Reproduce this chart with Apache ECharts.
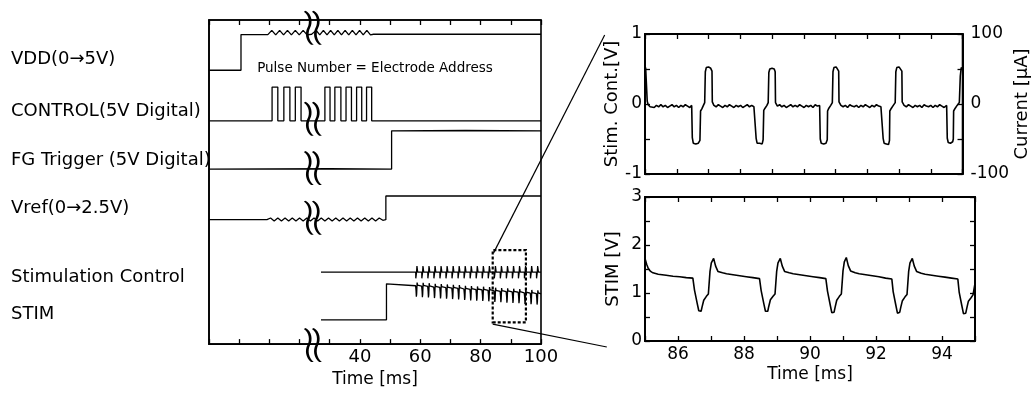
<!DOCTYPE html>
<html><head><meta charset="utf-8">
<script src="https://cdn.jsdelivr.net/npm/echarts@6/dist/echarts.min.js"></script>
<style>html,body{margin:0;padding:0;background:#fff}#c{width:1032px;height:393px}</style>
</head><body><div id="c"></div>
<script>
// ---------- DATA ----------
// Left panel: schematic timing traces (time in ms, level in arbitrary units 0..100)
const leftTickLabels = [40, 60, 80, 100];
const signalNames = ['VDD(0\u21925V)', 'CONTROL(5V Digital)', 'FG Trigger (5V Digital)', 'Vref(0\u21922.5V)', 'Stimulation Control', 'STIM'];
const vdd = [[-10,84.5],[0.6,84.5],[0.6,95.5],[9.5,95.5],[10.8,96.8],[12.1,95.4],[13.4,96.8],[14.7,95.4],[16.0,96.8],[17.3,95.4],[18.6,96.8],[19.9,95.4],[21.2,96.8],[22.5,95.4],[24.0,95.6],[25.5,96.8],[26.7,95.4],[27.9,96.8],[29.1,95.4],[30.3,96.8],[31.5,95.4],[32.7,96.8],[33.9,95.4],[35.1,96.8],[36.3,95.4],[37.5,96.8],[38.7,95.4],[39.9,96.8],[41.1,95.4],[42.3,96.8],[43.5,95.4],[44.5,95.6],[100,95.6]];
const control = [[-10,68.9],[10.9,68.9],[10.9,79.3],[12.8,79.3],[12.8,68.9],[14.8,68.9],[14.8,79.3],[16.8,79.3],[16.8,68.9],[18.6,68.9],[18.6,79.3],[20.5,79.3],[20.5,68.9],[28.4,68.9],[28.4,79.3],[30.1,79.3],[30.1,68.9],[31.7,68.9],[31.7,79.3],[33.7,79.3],[33.7,68.9],[35.4,68.9],[35.4,79.3],[37.2,79.3],[37.2,68.9],[38.9,68.9],[38.9,79.3],[40.6,79.3],[40.6,68.9],[42.2,68.9],[42.2,79.3],[43.9,79.3],[43.9,68.9],[100,68.9]];
const fgTrigger = [[-10,54.0],[30,54.1],[50.5,54.0],[50.5,65.8],[75,65.9],[100,65.8]];
const vref = [[-10,38.4],[9.2,38.4],[10.4,38.9],[11.6,38.0],[12.8,38.9],[14.0,38.0],[15.2,38.9],[16.4,38.0],[17.6,38.9],[18.8,38.0],[20.0,38.9],[21.2,38.0],[22.4,38.9],[23.6,38.0],[24.8,38.9],[26.0,38.0],[27.2,38.9],[28.4,38.0],[29.6,38.9],[30.8,38.0],[32.0,38.9],[33.2,38.0],[34.4,38.9],[35.6,38.0],[36.8,38.9],[38.0,38.0],[39.2,38.9],[40.4,38.0],[41.6,38.9],[42.8,38.0],[44.0,38.9],[45.2,38.0],[46.4,38.9],[47.6,38.2],[48.6,38.4],[48.6,45.7],[100,45.7]];
const stimCtrlBase = 22.2;
const stimCtrlStart = 27.1;
const pulseTimes = [58.5,60.5,62.5,64.5,66.5,68.5,70.5,72.5,74.5,76.5,78.5,80.5,82.5,84.5,86.5,88.5,90.5,92.5,94.5,96.5,98.5];
const stimCtrlShape = [[0,0],[0.02,-1.9],[0.25,-1.9],[0.27,0],[0.38,0],[0.40,1.9],[0.62,1.9],[0.64,0]];
const stimLow = 7.5, stimStep = 48.8, stimHigh = 18.6, stimEnd = 15.5;
const stimEnvelope = [18.0,17.9,17.8,17.6,17.5,17.4,17.3,17.2,17.0,16.9,16.8,16.7,16.6,16.4,16.3,16.2,16.1,16.0,15.8,15.7,15.6];
const stimShape = [[-0.05,0],[0.10,-1.5],[0.20,-3.4],[0.30,-2.6],[0.45,1.0],[0.60,0.2]];
const breakMarks = [[24.4,97.6],[24.4,69.5],[24.4,54.3],[24.4,39.0],[24.4,-0.3]];
const zoomBox = [[84.0,6.7],[95.0,29.0]];
const zoomLinkTop = [[84.3,29.0],[121.1,95.4]];
const zoomLinkBottom = [[84.0,7.3],[121.8,0.3]];
const annotation = 'Pulse Number = Electrode Address';

// Right panels: measured waveforms 85..95 ms
const zoomTickLabels = [86, 88, 90, 92, 94];
const stimContV = [
 [85.00,0.47],[85.02,0.52],[85.05,0.50],[85.07,0.04],[85.10,-0.01],[85.16,-0.04],[85.22,-0.02],[85.29,-0.05],[85.36,-0.02],[85.43,-0.04],[85.50,-0.01],[85.57,-0.04],[85.64,-0.02],[85.71,-0.05],[85.78,-0.03],[85.85,-0.01],[85.92,-0.04],[85.99,-0.02],[86.06,-0.05],[86.13,-0.02],[86.20,-0.04],[86.27,-0.01],[86.34,-0.03],[86.41,-0.05],[86.47,-0.02],
 [86.49,-0.48],[86.52,-0.56],[86.60,-0.57],[86.68,-0.56],[86.73,-0.52],[86.75,-0.10],[86.79,-0.07],[86.84,-0.02],[86.88,0.02],[86.90,0.46],[86.93,0.52],[87.00,0.53],[87.07,0.51],[87.11,0.47],[87.12,0.03],
 [87.17,-0.02],[87.24,-0.04],[87.31,-0.01],[87.38,-0.03],[87.45,-0.05],[87.52,-0.02],[87.59,-0.04],[87.66,-0.01],[87.73,-0.03],[87.80,-0.05],[87.87,-0.02],[87.94,-0.04],[88.01,-0.02],[88.08,-0.05],[88.15,-0.03],[88.22,-0.01],[88.29,-0.04],[88.36,-0.02],[88.43,-0.04],[88.48,-0.02],
 [88.50,-0.49],[88.53,-0.56],[88.61,-0.56],[88.69,-0.57],[88.72,-0.51],[88.74,-0.09],[88.78,-0.06],[88.84,-0.02],[88.88,0.02],[88.90,0.45],[88.93,0.50],[89.00,0.51],[89.07,0.50],[89.10,0.46],[89.11,0.02],
 [89.17,-0.03],[89.24,-0.01],[89.31,-0.04],[89.38,-0.02],[89.45,-0.05],[89.52,-0.03],[89.59,-0.01],[89.66,-0.04],[89.73,-0.02],[89.80,-0.04],[89.87,-0.01],[89.94,-0.03],[90.01,-0.05],[90.08,-0.02],[90.15,-0.04],[90.22,-0.02],[90.29,-0.05],[90.36,-0.01],[90.43,-0.03],[90.50,-0.02],
 [90.52,-0.50],[90.55,-0.56],[90.63,-0.57],[90.70,-0.56],[90.74,-0.51],[90.75,-0.10],[90.79,-0.06],[90.85,-0.02],[90.90,0.02],[90.92,0.46],[90.95,0.52],[91.02,0.53],[91.08,0.51],[91.10,0.47],[91.11,0.03],
 [91.17,-0.02],[91.24,-0.04],[91.31,-0.02],[91.38,-0.05],[91.45,-0.01],[91.52,-0.03],[91.59,-0.04],[91.66,-0.02],[91.73,-0.05],[91.80,-0.02],[91.87,-0.04],[91.94,-0.01],[92.01,-0.03],[92.08,-0.05],[92.15,-0.02],[92.22,-0.04],[92.29,-0.01],[92.36,-0.03],[92.43,-0.04],[92.48,-0.02],
 [92.50,-0.49],[92.53,-0.56],[92.60,-0.57],[92.67,-0.58],[92.70,-0.52],[92.71,-0.10],[92.76,-0.06],[92.82,-0.02],[92.88,0.02],[92.90,0.46],[92.93,0.52],[93.00,0.53],[93.06,0.51],[93.09,0.47],[93.10,0.03],
 [93.16,-0.02],[93.23,-0.04],[93.30,-0.01],[93.37,-0.03],[93.44,-0.05],[93.51,-0.02],[93.58,-0.04],[93.65,-0.02],[93.72,-0.05],[93.79,-0.01],[93.86,-0.03],[93.93,-0.04],[94.00,-0.02],[94.07,-0.05],[94.14,-0.02],[94.21,-0.04],[94.28,-0.01],[94.35,-0.03],[94.42,-0.05],[94.50,-0.02],
 [94.52,-0.49],[94.55,-0.55],[94.62,-0.56],[94.69,-0.54],[94.71,-0.50],[94.72,-0.10],[94.77,-0.06],[94.83,-0.02],[94.90,0.02],[94.93,0.40],[94.96,0.52],[95.00,0.50]
];
const stimV = [
 [85.00,1.72],[85.05,1.60],[85.10,1.51],[85.17,1.45],[85.24,1.42],[85.40,1.39],[85.64,1.37],[85.85,1.35],[86.05,1.34],[86.25,1.32],[86.45,1.31],
 [86.50,1.06],[86.58,0.79],[86.63,0.63],[86.66,0.59],[86.70,0.62],[86.73,0.71],[86.78,0.85],[86.86,0.93],[86.92,0.98],[86.97,1.45],[87.01,1.63],[87.08,1.72],[87.14,1.56],[87.21,1.45],[87.35,1.42],[87.47,1.40],[87.67,1.38],[87.87,1.36],[88.07,1.34],[88.27,1.32],[88.47,1.30],
 [88.52,1.05],[88.60,0.78],[88.65,0.62],[88.68,0.58],[88.72,0.62],[88.75,0.72],[88.80,0.86],[88.88,0.93],[88.94,0.98],[88.99,1.45],[89.03,1.63],[89.10,1.72],[89.16,1.56],[89.23,1.45],[89.37,1.42],[89.49,1.40],[89.69,1.38],[89.89,1.36],[90.09,1.34],[90.29,1.32],[90.48,1.30],
 [90.53,1.04],[90.61,0.76],[90.66,0.59],[90.69,0.55],[90.73,0.60],[90.76,0.70],[90.81,0.85],[90.89,0.93],[90.95,0.98],[91.00,1.46],[91.04,1.65],[91.10,1.74],[91.16,1.57],[91.23,1.46],[91.37,1.42],[91.49,1.40],[91.69,1.38],[91.89,1.36],[92.09,1.34],[92.29,1.31],[92.48,1.29],
 [92.52,1.03],[92.60,0.75],[92.65,0.58],[92.68,0.55],[92.72,0.60],[92.75,0.70],[92.80,0.84],[92.88,0.92],[92.94,0.97],[92.99,1.45],[93.03,1.63],[93.10,1.72],[93.16,1.56],[93.23,1.45],[93.37,1.41],[93.49,1.39],[93.69,1.37],[93.89,1.35],[94.09,1.33],[94.29,1.31],[94.48,1.29],
 [94.52,1.02],[94.60,0.74],[94.65,0.57],[94.68,0.53],[94.72,0.58],[94.75,0.68],[94.80,0.83],[94.88,0.90],[94.94,0.96],[95.00,1.20]
];

// ---------- BUILD ----------
function stimCtrlTrace() {
  const d = [[stimCtrlStart, stimCtrlBase]];
  pulseTimes.forEach(t => stimCtrlShape.forEach(s => d.push([t + s[0], stimCtrlBase + s[1]])));
  d.push([100, stimCtrlBase]);
  return d;
}
function stimTrace() {
  const d = [[stimCtrlStart, stimLow], [stimStep, stimLow], [stimStep, stimHigh]];
  pulseTimes.forEach((t, i) => stimShape.forEach(s => d.push([t + s[0], stimEnvelope[i] + s[1]])));
  d.push([100, stimEnd]);
  return d;
}

const FONT = '"DejaVu Sans", "Liberation Sans", sans-serif';
const BLK = '#000';
const lineS = (data, xi, yi, w) => ({
  type: 'line', data, xAxisIndex: xi, yAxisIndex: yi, symbol: 'none', animation: false,
  lineStyle: { color: BLK, width: w }, z: 3
});
const tickInside = (len) => ({ show: true, inside: true, length: len, lineStyle: { color: BLK, width: 1.3 } });
const axLine = (w) => ({ show: true, onZero: false, lineStyle: { color: BLK, width: w } });
const hiddenAxis = (gi, min, max) => ({ gridIndex: gi, type: 'value', min, max, show: false, splitLine: { show: false } });

const chart = echarts.init(document.getElementById('c'), null, { renderer: 'canvas' });

// left panel scale: 332 px for 110 ms; overlay grid shares the same scale, extended to the right panels
const LEFT_W = 332, LEFT_SPAN = 110, OVER_W = 436;
const overMax = -10 + OVER_W * LEFT_SPAN / LEFT_W;

const grids = [
  { left: 209, top: 20, width: LEFT_W, height: 328, show: true, borderColor: BLK, borderWidth: 1.6 },
  { left: 645, top: 34, width: 330, height: 140, show: true, borderColor: BLK, borderWidth: 1.6 },
  { left: 645, top: 197, width: 330, height: 144, show: true, borderColor: BLK, borderWidth: 1.6 },
  { left: 209, top: 20, width: OVER_W, height: 328, show: false }
];

const leftLabelY = [59, 111, 160, 208, 277, 314];

// axis-break glyph: two filled S-shaped strokes
const breakPath = 'path://M2,0 C9,4 10,14 7,20 C4,26 5,35 11,40 L8,40 C2,35 1,26 4,20 C7,14 6,5 0,1 Z ' +
                  'M11,0 C18,4 19,14 16,20 C13,26 14,35 20,40 L17,40 C11,35 10,26 13,20 C16,14 15,5 9,1 Z';

const option = {
  backgroundColor: '#fff',
  animation: false,
  grid: grids,
  xAxis: [
    { gridIndex: 0, type: 'value', min: -10, max: 100, interval: 10, axisLine: axLine(1.6), axisTick: tickInside(5), splitLine: { show: false },
      axisLabel: { margin: 4, color: BLK, fontFamily: FONT, fontSize: 18, showMaxLabel: true, formatter: v => leftTickLabels.includes(v) ? String(v) : '' },
      name: 'Time [ms]', nameLocation: 'middle', nameGap: 26, nameTextStyle: { color: BLK, fontFamily: FONT, fontSize: 17 } },
    { gridIndex: 0, type: 'value', position: 'top', min: -10, max: 100, interval: 10, axisLine: axLine(1.6), axisTick: tickInside(5), axisLabel: { show: false }, splitLine: { show: false } },
    { gridIndex: 1, type: 'value', min: 85, max: 95, interval: 1, axisLine: axLine(2), axisTick: tickInside(5), axisLabel: { show: false }, splitLine: { show: false } },
    { gridIndex: 1, type: 'value', position: 'top', min: 85, max: 95, interval: 1, axisLine: axLine(2), axisTick: tickInside(5), axisLabel: { show: false }, splitLine: { show: false } },
    { gridIndex: 2, type: 'value', min: 85, max: 95, interval: 1, axisLine: axLine(2), axisTick: tickInside(5), splitLine: { show: false },
      axisLabel: { margin: 5, color: BLK, fontFamily: FONT, fontSize: 17, formatter: v => zoomTickLabels.includes(v) ? String(v) : '' },
      name: 'Time [ms]', nameLocation: 'middle', nameGap: 25, nameTextStyle: { color: BLK, fontFamily: FONT, fontSize: 17 } },
    { gridIndex: 2, type: 'value', position: 'top', min: 85, max: 95, interval: 1, axisLine: axLine(2), axisTick: tickInside(5), axisLabel: { show: false }, splitLine: { show: false } },
    hiddenAxis(3, -10, overMax)
  ],
  yAxis: [
    { gridIndex: 0, type: 'value', min: 0, max: 100, axisLine: axLine(1.6), axisTick: { show: false }, axisLabel: { show: false }, splitLine: { show: false } },
    { gridIndex: 1, type: 'value', min: -1, max: 1, interval: 0.5, axisLine: axLine(2), axisTick: tickInside(5), splitLine: { show: false },
      axisLabel: { margin: 3, color: BLK, fontFamily: FONT, fontSize: 17, formatter: v => (Number.isInteger(v) ? String(v) : '') },
      name: 'Stim. Cont.[V]', nameLocation: 'middle', nameGap: 23, nameRotate: 90, nameTextStyle: { color: BLK, fontFamily: FONT, fontSize: 18 } },
    { gridIndex: 1, type: 'value', position: 'right', min: -100, max: 100, interval: 50, axisLine: axLine(2), axisTick: tickInside(5), splitLine: { show: false },
      axisLabel: { margin: 8, color: BLK, fontFamily: FONT, fontSize: 17, formatter: v => (v % 100 === 0 ? String(v) : '') },
      name: 'Current [\u03bcA]', nameLocation: 'middle', nameGap: 38, nameRotate: 90, nameTextStyle: { color: BLK, fontFamily: FONT, fontSize: 18 } },
    { gridIndex: 2, type: 'value', min: 0, max: 3, interval: 0.5, axisLine: axLine(2), axisTick: tickInside(5), splitLine: { show: false },
      axisLabel: { margin: 3, color: BLK, fontFamily: FONT, fontSize: 17, formatter: v => (Number.isInteger(v) ? String(v) : '') },
      name: 'STIM [V]', nameLocation: 'middle', nameGap: 23, nameRotate: 90, nameTextStyle: { color: BLK, fontFamily: FONT, fontSize: 18 } },
    { gridIndex: 2, type: 'value', position: 'right', min: 0, max: 3, interval: 0.5, axisLine: axLine(2), axisTick: tickInside(5), axisLabel: { show: false }, splitLine: { show: false } },
    hiddenAxis(3, 0, 100)
  ],
  series: [
    lineS(vdd, 0, 0, 1.3),
    lineS(control, 0, 0, 1.3),
    lineS(fgTrigger, 0, 0, 1.3),
    lineS(vref, 0, 0, 1.3),
    lineS(stimCtrlTrace(), 0, 0, 1.3),
    Object.assign(lineS(stimTrace(), 0, 0, 1.3), {
      markArea: { silent: true, itemStyle: { color: 'rgba(0,0,0,0)', borderColor: BLK, borderWidth: 2.2, borderType: [3, 2] },
        data: [[{ coord: zoomBox[0] }, { coord: zoomBox[1] }]] }
    }),
    lineS(zoomLinkTop, 6, 5, 1.2),
    lineS(zoomLinkBottom, 6, 5, 1.2),
    { type: 'scatter', xAxisIndex: 0, yAxisIndex: 0, data: breakMarks, clip: false, z: 10, animation: false, silent: true,
      symbol: breakPath, symbolSize: [18, 34], symbolKeepAspect: false,
      itemStyle: { color: BLK, borderWidth: 0, opacity: 1 } },
    lineS(stimContV, 2, 1, 1.6),
    lineS(stimV, 4, 3, 1.6)
  ],
  graphic: signalNames.map((t, i) => ({
    type: 'text', x: 11, y: leftLabelY[i], silent: true,
    style: { text: t, font: '18px ' + FONT, fill: BLK, align: 'left', verticalAlign: 'middle' }
  })).concat([{
    type: 'text', x: 375, y: 68, silent: true,
    style: { text: annotation, font: '13.5px ' + FONT, fill: BLK, align: 'center', verticalAlign: 'middle' }
  }])
};
chart.setOption(option);
</script>
</body></html>
